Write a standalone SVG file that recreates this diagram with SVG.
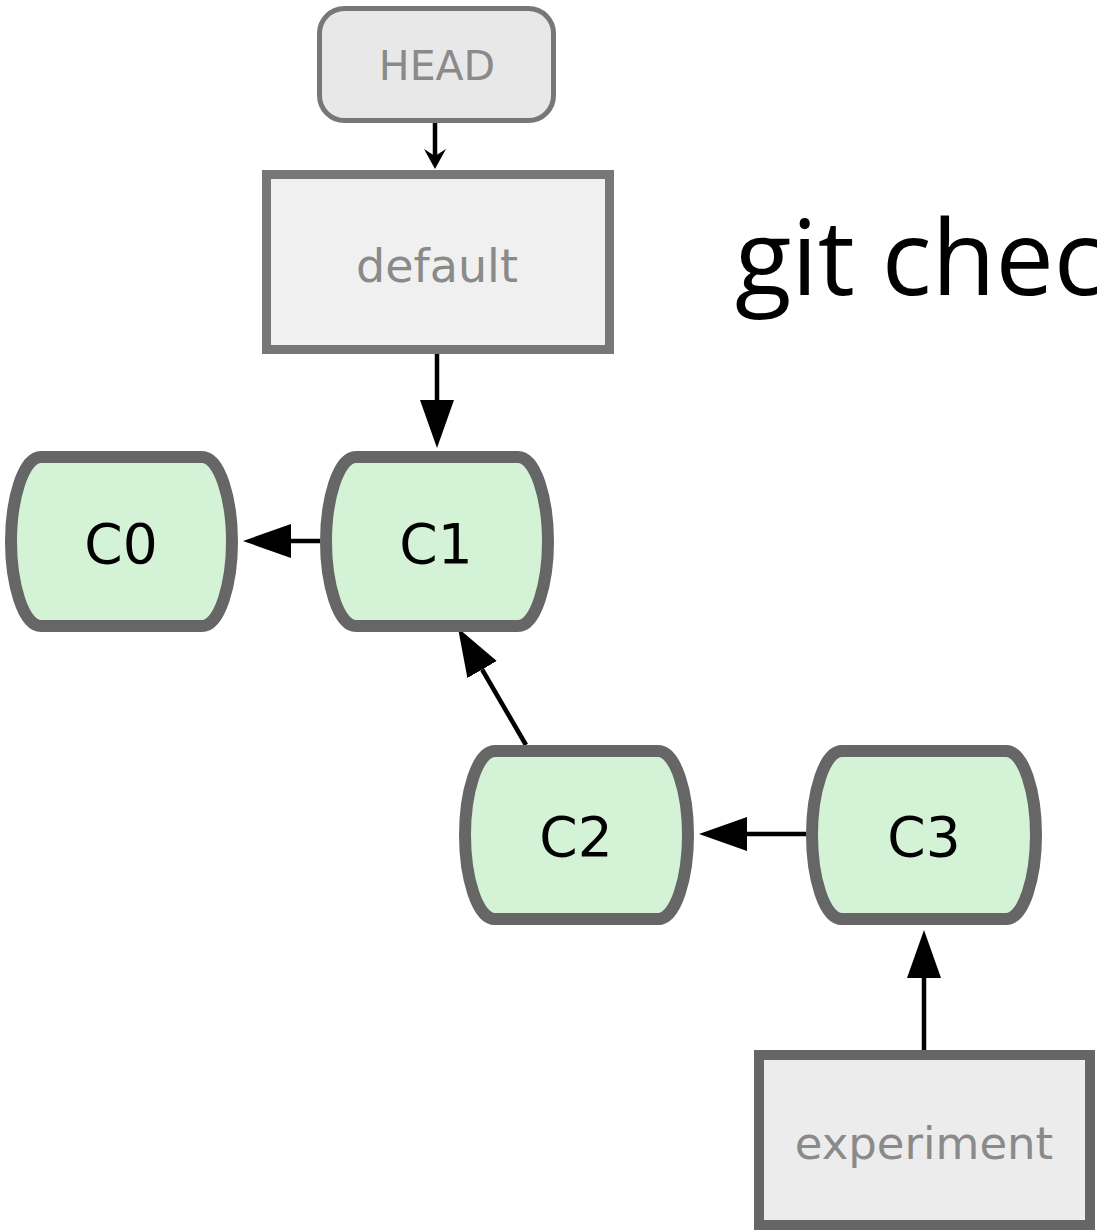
<svg xmlns="http://www.w3.org/2000/svg" width="1097" height="1232" viewBox="0 0 1097 1232">
<style>
.commit{fill:#d4f2d6;stroke:#666;stroke-width:12}
.clabel{font-family:"DejaVu Sans",sans-serif;font-size:55px;fill:#000;text-anchor:middle}
.ref{font-family:"DejaVu Sans",sans-serif;fill:#8a8a8a;text-anchor:middle}
.conn{stroke:#000;stroke-width:4.5;fill:none}
</style>
<defs>
<marker id="tri" viewBox="0 0 48 34" refX="0" refY="17" markerWidth="48" markerHeight="34" markerUnits="userSpaceOnUse" orient="auto">
<path d="M0,0 L48,17 L0,34 Z" fill="#000"/>
</marker>
<marker id="small" viewBox="0 -11 20 22" refX="7" refY="0" markerWidth="20" markerHeight="22" markerUnits="userSpaceOnUse" orient="auto">
<path d="M0,-11 L20,0 L0,11 L7,0 Z" fill="#000"/>
</marker>
</defs>
<rect width="1097" height="1232" fill="#fff"/>
<g id="connectors">
<line class="conn" x1="435" y1="123" x2="435" y2="156" marker-end="url(#small)"/>
<line class="conn" x1="437" y1="354" x2="437" y2="400" marker-end="url(#tri)"/>
<line class="conn" x1="320" y1="541" x2="291" y2="541" marker-end="url(#tri)"/>
<line class="conn" x1="526" y1="745" x2="482.1" y2="669.5" marker-end="url(#tri)"/>
<line class="conn" x1="806" y1="834" x2="747" y2="834" marker-end="url(#tri)"/>
<line class="conn" x1="924" y1="1052" x2="924" y2="978" marker-end="url(#tri)"/>
</g>
<g id="HEAD">
<rect x="319.5" y="8.5" width="234" height="112" rx="25" fill="#e8e8e8" stroke="#777" stroke-width="5"/>
<text class="ref" x="437" y="80" font-size="41">HEAD</text>
</g>
<g id="default">
<rect x="266.5" y="174.5" width="343" height="175" fill="#f0f0f0" stroke="#777" stroke-width="9"/>
<text class="ref" x="437" y="282" font-size="46">default</text>
</g>
<g id="C0">
<path class="commit" d="M41,457 H202 C220,457 232,500 232,541.5 C232,583 220,626 202,626 H41 C23,626 11,583 11,541.5 C11,500 23,457 41,457 Z"/>
<text class="clabel" x="121" y="563">C0</text>
</g>
<g id="C1">
<path class="commit" d="M356,457 H518 C536,457 548,500 548,541.5 C548,583 536,626 518,626 H356 C338,626 326,583 326,541.5 C326,500 338,457 356,457 Z"/>
<text class="clabel" x="436" y="563">C1</text>
</g>
<g id="C2">
<path class="commit" d="M495,751 H658 C676,751 688,793 688,835 C688,877 676,919 658,919 H495 C477,919 465,877 465,835 C465,793 477,751 495,751 Z"/>
<text class="clabel" x="576" y="856">C2</text>
</g>
<g id="C3">
<path class="commit" d="M842,751 H1006 C1024,751 1036,793 1036,835 C1036,877 1024,919 1006,919 H842 C824,919 812,877 812,835 C812,793 824,751 842,751 Z"/>
<text class="clabel" x="924" y="856">C3</text>
</g>
<g id="experiment">
<rect x="759" y="1055" width="331" height="170" fill="#ececec" stroke="#666" stroke-width="10"/>
<text class="ref" x="924" y="1159" font-size="45">experiment</text>
</g>
<g id="command">
<text x="735" y="295" font-family="'Open Sans',sans-serif" font-size="104" fill="#000">git chec</text>
</g>
</svg>
